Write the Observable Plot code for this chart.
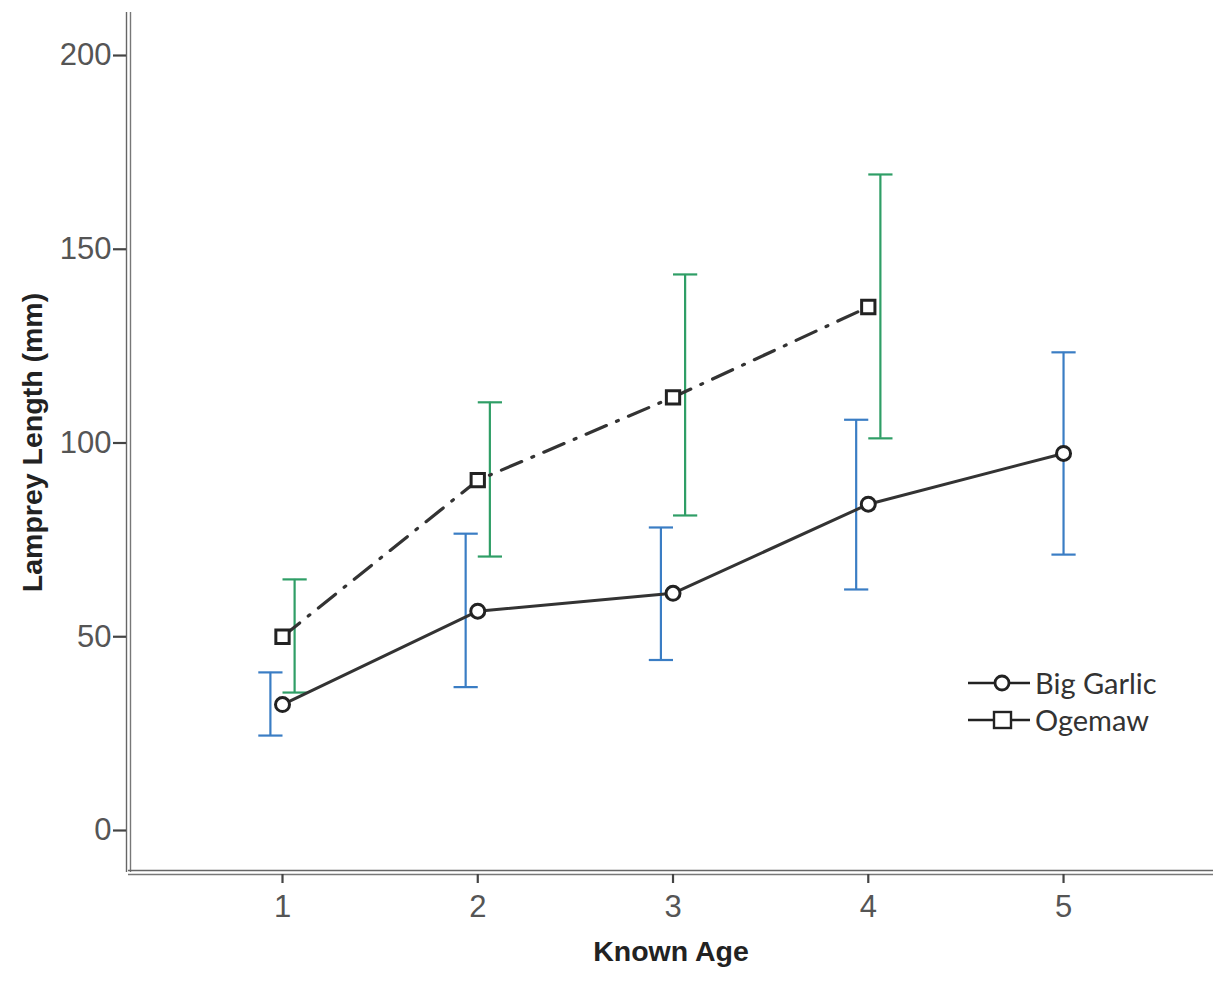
<!DOCTYPE html>
<html>
<head>
<meta charset="utf-8">
<script src="https://cdn.jsdelivr.net/npm/d3@7"></script>
<script src="https://cdn.jsdelivr.net/npm/@observablehq/plot@0.6"></script>
<style>
  html, body { margin: 0; padding: 0; background: #fff; }
  #wrap { position: relative; width: 1218px; height: 983px; }
  #legend { position: absolute; left: 966px; top: 664px; font-family: Lato, "Open Sans", sans-serif; font-size: 29px; color: #333; }
  #legend .row { display: flex; align-items: center; height: 37px; }
  #legend svg { margin-right: 3px; }
</style>
</head>
<body>
<div id="wrap"><div id="legend"></div></div>
<script>
// ---- data ----
const ages = [1, 2, 3, 4, 5];
const bigGarlicMean = [32.5, 56.6, 61.2, 84.2, 97.3];
const bigGarlicLow  = [24.5, 37.0, 44.0, 62.2, 71.2];
const bigGarlicHigh = [40.8, 76.6, 78.2, 106.0, 123.4];

const ogemawAges = [1, 2, 3, 4];
const ogemawMean = [50.0, 90.4, 111.8, 135.1];
const ogemawLow  = [35.6, 70.7, 81.3, 101.2];
const ogemawHigh = [64.8, 110.5, 143.5, 169.3];

const yTicks = [0, 50, 100, 150, 200];
const xTicks = [1, 2, 3, 4, 5];
const seriesNames = ["Big Garlic", "Ogemaw"];
const barColors = {"Big Garlic": "#3a7dc4", "Ogemaw": "#2f9e66"};

// ---- build tables ----
const dodge = 0.062, cap = 0.062;
const bg = ages.map((a, i) => ({series: "Big Garlic", age: a, mean: bigGarlicMean[i], lo: bigGarlicLow[i], hi: bigGarlicHigh[i]}));
const og = ogemawAges.map((a, i) => ({series: "Ogemaw", age: a, mean: ogemawMean[i], lo: ogemawLow[i], hi: ogemawHigh[i]}));
const all = [...bg, ...og];
const ogSet = new Set(ogemawAges), bgSet = new Set(ages);
for (const d of all) {
  const both = ogSet.has(d.age) && bgSet.has(d.age);
  d.bx = both ? d.age + (d.series === "Big Garlic" ? -dodge : dodge) : d.age;
}

const xDomain = [0.2113, 5.768];
const yDomain = [-10.84, 211.1];

const chart = Plot.plot({
  width: 1218,
  height: 983,
  marginLeft: 128,
  marginRight: 5,
  marginTop: 12,
  marginBottom: 111,
  style: {fontFamily: "'Liberation Sans', Arial, sans-serif", color: "#555", background: "transparent"},
  x: {domain: xDomain},
  y: {domain: yDomain},
  marks: [
    // axis double lines
    Plot.ruleX([xDomain[0]], {y1: yDomain[0], y2: yDomain[1], dx: -2, stroke: "#666", strokeWidth: 1.4}),
    Plot.ruleX([xDomain[0]], {y1: yDomain[0], y2: yDomain[1], dx: 2, stroke: "#777", strokeWidth: 1.4}),
    Plot.ruleY([yDomain[0]], {x1: xDomain[0], x2: xDomain[1], dy: -2, stroke: "#666", strokeWidth: 1.4}),
    Plot.ruleY([yDomain[0]], {x1: xDomain[0], x2: xDomain[1], dy: 2, stroke: "#777", strokeWidth: 1.4}),
    Plot.axisY({ticks: yTicks, tickFormat: "d", tickSize: 13, tickPadding: 2, fontSize: 31, label: null, strokeWidth: 2.2, stroke: "#444", dx: -2}),
    Plot.axisX({ticks: xTicks, tickFormat: "d", tickSize: 9, tickPadding: 11, fontSize: 31, label: null, strokeWidth: 2.2, stroke: "#444", dy: 2}),
    // error bars
    Plot.ruleX(all, {x: "bx", y1: "lo", y2: "hi", stroke: d => barColors[d.series], strokeWidth: 2.2}),
    Plot.link(all, {x1: d => d.bx - cap, x2: d => d.bx + cap, y1: "hi", y2: "hi", stroke: d => barColors[d.series], strokeWidth: 2.2}),
    Plot.link(all, {x1: d => d.bx - cap, x2: d => d.bx + cap, y1: "lo", y2: "lo", stroke: d => barColors[d.series], strokeWidth: 2.2}),
    // lines
    Plot.line(bg, {x: "age", y: "mean", stroke: "#333", strokeWidth: 3}),
    Plot.line(og, {x: "age", y: "mean", stroke: "#333", strokeWidth: 3.2, strokeDasharray: "22,11,2,11", strokeLinecap: "round"}),
    // markers
    Plot.dot(bg, {x: "age", y: "mean", r: 7, symbol: "circle", stroke: "#222", strokeWidth: 3, fill: "white"}),
    Plot.dot(og, {x: "age", y: "mean", r: 7.5, symbol: "square", stroke: "#222", strokeWidth: 3, fill: "white"}),
    // axis titles
    Plot.text(["Lamprey Length (mm)"], {frameAnchor: "left", dx: -96, rotate: -90, fontSize: 28.5, fontWeight: "bold", fill: "#222", textAnchor: "middle"}),
    Plot.text(["Known Age"], {frameAnchor: "bottom", dy: 88, fontSize: 28.5, fontWeight: "bold", fill: "#222", textAnchor: "middle"})
  ]
});
document.getElementById("wrap").prepend(chart);

// legend
const legend = document.getElementById("legend");
for (const name of seriesNames) {
  const row = document.createElement("div");
  row.className = "row";
  const sym = name === "Big Garlic"
    ? '<circle cx="36" cy="14" r="7" fill="white" stroke="#222" stroke-width="2.8"/>'
    : '<rect x="28" y="6" width="17" height="16" fill="white" stroke="#222" stroke-width="2.4"/>';
  row.innerHTML = `<svg width="66" height="28"><line x1="2" x2="64" y1="14" y2="14" stroke="#222" stroke-width="2.6"/>${sym}</svg><span>${name}</span>`;
  legend.appendChild(row);
}
</script>
</body>
</html>
